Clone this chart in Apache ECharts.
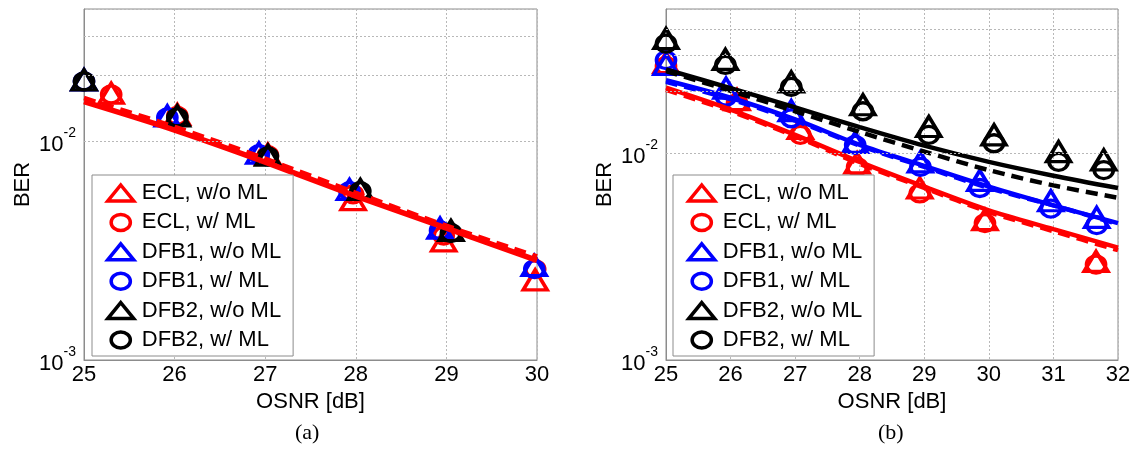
<!DOCTYPE html>
<html>
<head>
<meta charset="utf-8">
<script src="https://cdn.jsdelivr.net/npm/echarts@6/dist/echarts.min.js"></script>
<style>html,body{margin:0;padding:0;background:#fff}#c{width:1138px;height:451px}</style>
</head>
<body>
<div id="c"></div>
<script>
// ---------- DATA ----------
const seriesNames = ['ECL, w/o ML','ECL, w/ ML','DFB1, w/o ML','DFB1, w/ ML','DFB2, w/o ML','DFB2, w/ ML'];
// panel (a)
const xA_ECL  = [25.3, 26.03, 27.03, 27.97, 28.97, 29.98];
const eclWoA  = [0.0165, 0.0132, 0.0087, 0.0054, 0.0035, 0.00232];
const eclWA   = [0.0163, 0.0130, 0.0086, 0.0057, 0.0037, 0.0026];
const xA_DFB1 = [25.0, 25.92, 26.93, 27.93, 28.93, 29.97];
const dfb1WoA = [0.0190, 0.0130, 0.0088, 0.0060, 0.0040, 0.0027];
const dfb1WA  = [0.0187, 0.0128, 0.0087, 0.0059, 0.0039, 0.0026];
const xA_DFB2 = [25.0, 26.03, 27.03, 28.05, 29.05];
const dfb2WoA = [0.0190, 0.0130, 0.0086, 0.0060, 0.0039];
const dfb2WA  = [0.0187, 0.0128, 0.0085, 0.0059, 0.0038];
const xFitA   = [25, 26, 27, 28, 29, 30];
const fitA_solid  = [0.0151, 0.0112, 0.0080, 0.0056, 0.0040, 0.00285];
const fitA_dashed = [0.0157, 0.0116, 0.0083, 0.0058, 0.0041, 0.00297];
// panel (b)
const xB_ECL  = [25.0, 26.1, 27.08, 27.96, 28.93, 29.94, 31.66];
const eclWoB  = [0.0275, 0.0182, 0.0132, 0.0090, 0.0068, 0.00478, 0.0030];
const eclWB   = [0.0265, 0.0175, 0.0123, 0.0086, 0.0064, 0.0046, 0.0029];
const xB_DFB1 = [25.0, 25.93, 26.94, 27.93, 28.94, 29.86, 30.96, 31.67];
const dfb1WoB = [0.0270, 0.0207, 0.0161, 0.0113, 0.0091, 0.0074, 0.0059, 0.0049];
const dfb1WB  = [0.0283, 0.0188, 0.0148, 0.0110, 0.0086, 0.0068, 0.0054, 0.0045];
const xB_DFB2 = [25.0, 25.92, 26.94, 28.05, 29.07, 30.08, 31.08, 31.78];
const dfb2WoB = [0.0360, 0.0285, 0.0222, 0.0172, 0.0135, 0.0123, 0.0102, 0.0093];
const dfb2WB  = [0.0340, 0.0268, 0.0210, 0.0160, 0.0123, 0.0112, 0.0091, 0.0083];
const xFitB   = [25, 26, 27, 28, 29, 30, 31, 32];
const fitB_blackSolid  = [0.0255, 0.0207, 0.0167, 0.0134, 0.0109, 0.0091, 0.0078, 0.0068];
const fitB_blackDashed = [0.0250, 0.0201, 0.0160, 0.0127, 0.0102, 0.0083, 0.0070, 0.0061];
const fitB_blueSolid   = [0.0226, 0.0186, 0.0146, 0.0110, 0.0087, 0.0069, 0.0056, 0.0046];
const fitB_blueDashed  = [0.0222, 0.0183, 0.0144, 0.0109, 0.0086, 0.0068, 0.0056, 0.00455];
const fitB_redSolid    = [0.0208, 0.0163, 0.0123, 0.0091, 0.0069, 0.0053, 0.0043, 0.0035];
const fitB_redDashed   = [0.0203, 0.0160, 0.0121, 0.0089, 0.0068, 0.0052, 0.0042, 0.0034];
// axes / gridlines
const yMinorA = [0.002,0.003,0.004,0.005,0.006,0.007,0.008,0.009,0.02,0.03];
const yMinorB = [0.002,0.003,0.004,0.005,0.006,0.007,0.008,0.009,0.02,0.03,0.04];
const captions = ['(a)', '(b)'];

// ---------- CHART ----------
const FONT = '"Liberation Sans", Arial, Helvetica, sans-serif';
const RED = '#ff0000', BLUE = '#0000ff', BLACK = '#000000';
const zip = (xs, ys) => xs.map((x, i) => [x, ys[i]]);
const triPath = 'path://M13,0L26,16L0,16Z';
const cirPath = 'path://M0,7.5a9,7.5 0 1,0 18,0a9,7.5 0 1,0 -18,0Z';

function scat(name, xs, ys, color, tri, gi) {
  return {
    type: 'scatter', name, xAxisIndex: gi, yAxisIndex: gi,
    data: zip(xs, ys),
    symbol: tri ? 'triangle' : 'circle',
    symbolSize: tri ? [24, 20] : [19, 17],
    itemStyle: { color: 'rgba(0,0,0,0)', borderColor: color, borderWidth: 3.5, opacity: 1 },
    emphasis: { disabled: true }, silent: true, z: 3
  };
}
function fit(xs, ys, color, dashed, gi, w) {
  return {
    type: 'line', xAxisIndex: gi, yAxisIndex: gi, data: zip(xs, ys),
    symbol: 'none', smooth: 0.3, silent: true,
    lineStyle: { color, width: w || 4.5, type: dashed ? [12, 7] : 'solid' },
    emphasis: { disabled: true }, z: 4
  };
}
function gridSeries(gi, minor, xs, ys) {
  return {
    type: 'line', xAxisIndex: gi, yAxisIndex: gi, data: zip(xs, ys),
    symbol: 'none', silent: true, lineStyle: { opacity: 0 }, z: 1,
    markLine: {
      silent: true, symbol: 'none', label: { show: false }, animation: false,
      lineStyle: { color: '#b8b8b8', type: [2, 2], width: 1 },
      data: minor.map(v => ({ yAxis: v }))
    }
  };
}
const yLabel = {
  fontSize: 22, color: '#000', margin: 8, fontFamily: FONT,
  formatter: v => {
    const l = Math.log10(v), e = Math.round(l);
    if (Math.abs(l - e) > 1e-6) return '';
    return '{b|10}{s|' + e + '}';
  },
  rich: {
    b: { fontSize: 22, fontFamily: FONT, color: '#000', lineHeight: 30, verticalAlign: 'bottom' },
    s: { fontSize: 14, fontFamily: FONT, color: '#000', lineHeight: 30, verticalAlign: 'top' }
  }
};
function xAx(gi, max) {
  return {
    type: 'value', gridIndex: gi, min: 25, max: max, interval: 1,
    name: 'OSNR [dB]', nameLocation: 'middle', nameGap: 24,
    nameTextStyle: { fontSize: 22, color: '#000', fontFamily: FONT, verticalAlign: 'top' },
    axisLine: { show: true, lineStyle: { color: '#8c8c8c' } },
    axisTick: { show: false },
    axisLabel: { fontSize: 22, color: '#000', margin: 4, fontFamily: FONT },
    splitLine: { show: true, lineStyle: { color: '#b8b8b8', type: [2, 2], width: 1 } }
  };
}
function yAx(gi, max) {
  return {
    type: 'log', logBase: 10, gridIndex: gi, min: 0.001, max: max,
    name: 'BER', nameLocation: 'middle', nameGap: 50, nameRotate: 90,
    nameTextStyle: { fontSize: 22, color: '#000', fontFamily: FONT },
    axisLine: { show: true, lineStyle: { color: '#8c8c8c' } },
    axisTick: { show: false },
    axisLabel: yLabel,
    splitLine: { show: true, lineStyle: { color: '#b8b8b8', type: [2, 2], width: 1 } },
    minorTick: { show: false }, minorSplitLine: { show: false }
  };
}
function legend(left) {
  return {
    orient: 'vertical', left: left, top: 175,
    padding: [7, 12, 5, 14], itemGap: 7.4,
    itemWidth: 32, itemHeight: 16,
    backgroundColor: '#fff', borderColor: '#8c8c8c', borderWidth: 1, borderRadius: 0,
    textStyle: { fontSize: 22, color: '#000', fontFamily: FONT, lineHeight: 22 },
    itemStyle: { borderWidth: 3.5, opacity: 1 },
    selectedMode: false,
    data: seriesNames.map((n, i) => ({ name: n, icon: i % 2 === 0 ? triPath : cirPath })),
    z: 10
  };
}

const series = [
  gridSeries(0, yMinorA, xFitA, fitA_solid),
  gridSeries(1, yMinorB, xFitB, fitB_redSolid),
  // panel a markers
  scat(seriesNames[0], xA_ECL, eclWoA, RED, true, 0),
  scat(seriesNames[1], xA_ECL, eclWA, RED, false, 0),
  scat(seriesNames[2], xA_DFB1, dfb1WoA, BLUE, true, 0),
  scat(seriesNames[3], xA_DFB1, dfb1WA, BLUE, false, 0),
  scat(seriesNames[4], xA_DFB2, dfb2WoA, BLACK, true, 0),
  scat(seriesNames[5], xA_DFB2, dfb2WA, BLACK, false, 0),
  fit(xFitA, fitA_solid, RED, false, 0, 5.5),
  fit(xFitA, fitA_dashed, RED, true, 0, 4.5),
  // panel b markers
  scat(seriesNames[0], xB_ECL, eclWoB, RED, true, 1),
  scat(seriesNames[1], xB_ECL, eclWB, RED, false, 1),
  scat(seriesNames[2], xB_DFB1, dfb1WoB, BLUE, true, 1),
  scat(seriesNames[3], xB_DFB1, dfb1WB, BLUE, false, 1),
  scat(seriesNames[4], xB_DFB2, dfb2WoB, BLACK, true, 1),
  scat(seriesNames[5], xB_DFB2, dfb2WB, BLACK, false, 1),
  fit(xFitB, fitB_blackSolid, BLACK, false, 1),
  fit(xFitB, fitB_blackDashed, BLACK, true, 1),
  fit(xFitB, fitB_blueSolid, BLUE, false, 1),
  fit(xFitB, fitB_blueDashed, BLUE, true, 1),
  fit(xFitB, fitB_redSolid, RED, false, 1),
  fit(xFitB, fitB_redDashed, RED, true, 1)
];

const chart = echarts.init(document.getElementById('c'), null, { renderer: 'canvas' });
chart.setOption({
  animation: false,
  backgroundColor: '#fff',
  grid: [
    { left: 84, top: 9, width: 453, height: 351, show: true, borderColor: '#8c8c8c', borderWidth: 1, backgroundColor: 'transparent' },
    { left: 666, top: 9, width: 452, height: 351, show: true, borderColor: '#8c8c8c', borderWidth: 1, backgroundColor: 'transparent' }
  ],
  xAxis: [xAx(0, 30), xAx(1, 32)],
  yAxis: [yAx(0, 0.04), yAx(1, 0.05)],
  legend: [legend(92), legend(673)],
  graphic: [
    { type: 'text', left: 310 - 15, top: 422, style: { text: captions[0], fontSize: 22, fill: '#000', fontFamily: '"Liberation Serif", "Times New Roman", serif' } },
    { type: 'text', left: 893 - 15, top: 422, style: { text: captions[1], fontSize: 22, fill: '#000', fontFamily: '"Liberation Serif", "Times New Roman", serif' } }
  ],
  series: series
});
</script>
</body>
</html>
